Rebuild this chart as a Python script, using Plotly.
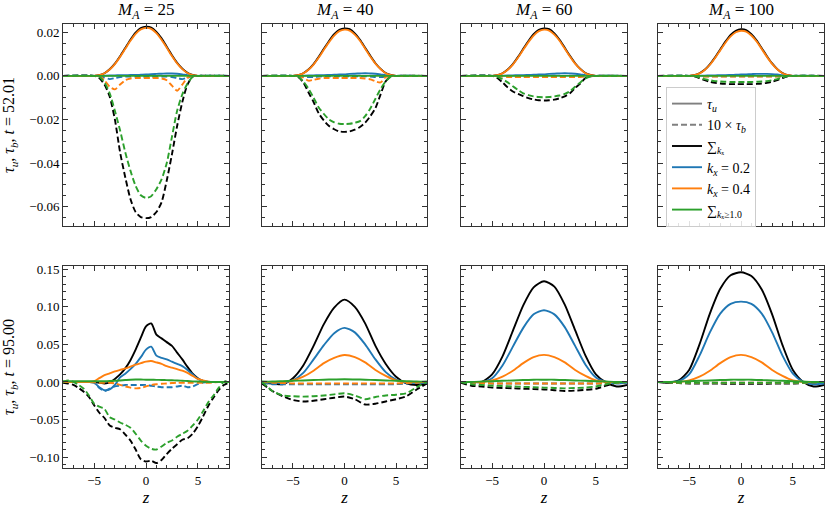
import plotly.graph_objects as go
from plotly.subplots import make_subplots

# ---------------- data ----------------
MA_LABELS = ["25", "40", "60", "100"]
ROW_TIMES = ["52.01", "95.00"]

Z_TOP = [-8, -5, -4.5, -4, -3.5, -3, -2.5, -2, -1.5, -1, -0.5, 0, 0.5, 1, 1.5, 2, 2.5, 3, 3.5, 4, 4.5, 5, 8]
Z_B25 = [-8, -7.5, -7, -6.5, -6, -5.5, -5, -4.5, -4, -3.5, -3, -2.5, -2, -1.5, -1, -0.5, 0,
         0.5, 1, 1.5, 2, 2.5, 3, 3.5, 4, 4.5, 5, 5.5, 6, 6.5, 7, 7.5, 8]
Z_BOT = [-8, -7, -6, -5, -4, -3, -2, -1, 0, 1, 2, 3, 4, 5, 6, 7, 8]

# ---- top row (t = 52.01) ----
top25_sum_u = [0, 0, 0.0003, 0.0012, 0.0030, 0.0056, 0.0090, 0.0128, 0.0166, 0.0198, 0.0219, 0.0226, 0.0222, 0.0202, 0.0172, 0.0134, 0.0095, 0.0060, 0.0033, 0.0014, 0.0004, 0, 0]
top25_sum_b = [0, 0, -0.0010, -0.0040, -0.0095, -0.0200, -0.0350, -0.0465, -0.0565, -0.0625, -0.0648, -0.0653, -0.0648, -0.0625, -0.0580, -0.0480, -0.0360, -0.0230, -0.0120, -0.0040, -0.0003, 0, 0]
top25_k02_u = [0, 0, 0, 0.0001, 0.0002, 0.0002, 0.0003, 0.0003, 0.0004, 0.0004, 0.0005, 0.0006, 0.0008, 0.0009, 0.0010, 0.0011, 0.0011, 0.0010, 0.0007, 0.0003, 0.0001, 0, 0]
top25_k02_b = [0, 0, -0.0002, -0.0008, -0.0015, -0.0010, -0.0005, -0.0003, -0.0003, -0.0003, -0.0003, -0.0003, -0.0003, -0.0003, -0.0003, -0.0003, -0.0005, -0.0010, -0.0015, -0.0008, -0.0002, 0, 0]
top25_k04_u = [0, 0, 0.0003, 0.0012, 0.0029, 0.0054, 0.0087, 0.0124, 0.0161, 0.0193, 0.0213, 0.0220, 0.0216, 0.0196, 0.0166, 0.0129, 0.0091, 0.0057, 0.0031, 0.0013, 0.0003, 0, 0]
top25_k04_b = [0, 0, 0, -0.0020, -0.0050, -0.0062, -0.0040, -0.0020, -0.0012, -0.0010, -0.0010, -0.0010, -0.0010, -0.0010, -0.0012, -0.0020, -0.0045, -0.0068, -0.0040, -0.0008, 0, 0, 0]
top25_hi_u = [0, 0, 0, 0, 0, 0, 0, 0, 0, 0, 0, 0, 0, 0, 0, 0, 0, 0, 0, 0, 0, 0, 0]
top25_hi_b = [0, 0, -0.0005, -0.0030, -0.0080, -0.0160, -0.0250, -0.0350, -0.0435, -0.0505, -0.0548, -0.0560, -0.0552, -0.0520, -0.0475, -0.0400, -0.0280, -0.0160, -0.0085, -0.0035, -0.0005, 0, 0]

top40_sum_u = [0, 0, 0.0003, 0.0012, 0.0029, 0.0054, 0.0087, 0.0124, 0.0160, 0.0191, 0.0211, 0.0218, 0.0214, 0.0195, 0.0166, 0.0129, 0.0092, 0.0058, 0.0032, 0.0013, 0.0004, 0, 0]
top40_sum_b = [0, 0, -0.0005, -0.0030, -0.0075, -0.0120, -0.0172, -0.0205, -0.0230, -0.0245, -0.0255, -0.0257, -0.0255, -0.0247, -0.0235, -0.0215, -0.0185, -0.0148, -0.0085, -0.0025, -0.0002, 0, 0]
top40_k02_u = [0, 0, 0, 0.0001, 0.0002, 0.0002, 0.0003, 0.0003, 0.0004, 0.0005, 0.0006, 0.0007, 0.0009, 0.0010, 0.0011, 0.0012, 0.0011, 0.0010, 0.0007, 0.0003, 0.0001, 0, 0]
top40_k02_b = [0, 0, -0.0001, -0.0004, -0.0006, -0.0005, -0.0003, -0.0002, -0.0002, -0.0002, -0.0002, -0.0002, -0.0002, -0.0002, -0.0002, -0.0002, -0.0003, -0.0005, -0.0006, -0.0004, -0.0001, 0, 0]
top40_k04_u = [0, 0, 0.0003, 0.0011, 0.0028, 0.0052, 0.0084, 0.0120, 0.0155, 0.0185, 0.0205, 0.0212, 0.0208, 0.0189, 0.0161, 0.0125, 0.0089, 0.0056, 0.0031, 0.0012, 0.0003, 0, 0]
top40_k04_b = [0, 0, 0, -0.0008, -0.0022, -0.0018, -0.0013, -0.0010, -0.0010, -0.0010, -0.0010, -0.0010, -0.0010, -0.0010, -0.0010, -0.0012, -0.0016, -0.0025, -0.0030, -0.0005, 0, 0, 0]
top40_hi_u = [0, 0, 0, 0, 0, 0, 0, 0, 0, 0, 0, 0, 0, 0, 0, 0, 0, 0, 0, 0, 0, 0, 0]
top40_hi_b = [0, 0, -0.0003, -0.0025, -0.0058, -0.0100, -0.0145, -0.0175, -0.0200, -0.0213, -0.0220, -0.0221, -0.0220, -0.0215, -0.0208, -0.0185, -0.0150, -0.0105, -0.0060, -0.0025, -0.0003, 0, 0]

top60_sum_u = [0, 0, 0.0003, 0.0012, 0.0029, 0.0054, 0.0087, 0.0124, 0.0160, 0.0191, 0.0211, 0.0218, 0.0214, 0.0195, 0.0166, 0.0129, 0.0092, 0.0058, 0.0032, 0.0013, 0.0004, 0, 0]
top60_sum_b = [0, 0, -0.0010, -0.0030, -0.0053, -0.0072, -0.0083, -0.0093, -0.0102, -0.0108, -0.0112, -0.0113, -0.0112, -0.0109, -0.0103, -0.0094, -0.0080, -0.0055, -0.0035, -0.0010, -0.0002, 0, 0]
top60_k02_u = [0, 0, 0, 0.0001, 0.0002, 0.0002, 0.0003, 0.0003, 0.0004, 0.0005, 0.0006, 0.0007, 0.0009, 0.0010, 0.0011, 0.0012, 0.0011, 0.0010, 0.0007, 0.0003, 0.0001, 0, 0]
top60_k02_b = [0, 0, -0.0001, -0.0002, -0.0002, -0.0002, -0.0002, -0.0002, -0.0002, -0.0002, -0.0002, -0.0002, -0.0002, -0.0002, -0.0002, -0.0002, -0.0002, -0.0002, -0.0002, -0.0002, -0.0001, 0, 0]
top60_k04_u = [0, 0, 0.0003, 0.0011, 0.0028, 0.0052, 0.0084, 0.0120, 0.0155, 0.0185, 0.0205, 0.0212, 0.0208, 0.0189, 0.0161, 0.0125, 0.0089, 0.0056, 0.0031, 0.0012, 0.0003, 0, 0]
top60_k04_b = [0, 0, 0, -0.0003, -0.0005, -0.0005, -0.0005, -0.0005, -0.0005, -0.0005, -0.0005, -0.0005, -0.0005, -0.0005, -0.0005, -0.0005, -0.0005, -0.0005, -0.0005, -0.0003, 0, 0, 0]
top60_hi_u = [0, 0, 0, 0, 0, 0, 0, 0, 0, 0, 0, 0, 0, 0, 0, 0, 0, 0, 0, 0, 0, 0, 0]
top60_hi_b = [0, 0, -0.0005, -0.0015, -0.0030, -0.0048, -0.0065, -0.0080, -0.0088, -0.0094, -0.0097, -0.0098, -0.0097, -0.0094, -0.0090, -0.0083, -0.0071, -0.0050, -0.0030, -0.0012, -0.0003, 0, 0]

top100_sum_u = [0, 0, 0.0003, 0.0012, 0.0028, 0.0053, 0.0085, 0.0121, 0.0157, 0.0188, 0.0207, 0.0214, 0.0210, 0.0191, 0.0163, 0.0127, 0.0090, 0.0057, 0.0031, 0.0013, 0.0003, 0, 0]
top100_sum_b = [0, 0, -0.0002, -0.0010, -0.0020, -0.0027, -0.0032, -0.0035, -0.0037, -0.0038, -0.0038, -0.0038, -0.0038, -0.0038, -0.0037, -0.0035, -0.0032, -0.0027, -0.0020, -0.0010, -0.0002, 0, 0]
top100_k02_u = [0, 0, 0, 0.0001, 0.0001, 0.0002, 0.0002, 0.0003, 0.0003, 0.0004, 0.0005, 0.0006, 0.0007, 0.0008, 0.0009, 0.0009, 0.0009, 0.0008, 0.0006, 0.0003, 0.0001, 0, 0]
top100_k02_b = [0, 0, -0.0001, -0.0002, -0.0002, -0.0002, -0.0002, -0.0002, -0.0002, -0.0002, -0.0002, -0.0002, -0.0002, -0.0002, -0.0002, -0.0002, -0.0002, -0.0002, -0.0002, -0.0002, -0.0001, 0, 0]
top100_k04_u = [0, 0, 0.0003, 0.0011, 0.0027, 0.0051, 0.0082, 0.0117, 0.0152, 0.0181, 0.0200, 0.0207, 0.0203, 0.0185, 0.0158, 0.0123, 0.0087, 0.0055, 0.0030, 0.0012, 0.0003, 0, 0]
top100_k04_b = [0, 0, 0, -0.0002, -0.0003, -0.0003, -0.0003, -0.0003, -0.0003, -0.0003, -0.0003, -0.0003, -0.0003, -0.0003, -0.0003, -0.0003, -0.0003, -0.0003, -0.0003, -0.0002, 0, 0, 0]
top100_hi_u = [0, 0, 0, 0, 0, 0, 0, 0, 0, 0, 0, 0, 0, 0, 0, 0, 0, 0, 0, 0, 0, 0, 0]
top100_hi_b = [0, 0, -0.0001, -0.0007, -0.0015, -0.0020, -0.0024, -0.0026, -0.0027, -0.0028, -0.0028, -0.0028, -0.0028, -0.0028, -0.0027, -0.0026, -0.0024, -0.0020, -0.0015, -0.0007, -0.0001, 0, 0]

# ---- bottom row (t = 95.00) ----
bot25_sum_u = [0, 0, 0, 0, 0, 0, 0, -0.001, -0.002, -0.001, 0.004, 0.010, 0.018, 0.029, 0.043, 0.059, 0.074, 0.078, 0.063, 0.058, 0.053, 0.048, 0.039, 0.030, 0.020, 0.011, 0.005, 0.0015, 0, 0, 0, 0, 0]
bot25_sum_b = [-0.001, -0.002, -0.004, -0.008, -0.013, -0.020, -0.031, -0.041, -0.048, -0.058, -0.061, -0.063, -0.070, -0.078, -0.090, -0.103, -0.106, -0.105, -0.108, -0.104, -0.096, -0.089, -0.083, -0.077, -0.075, -0.069, -0.059, -0.046, -0.032, -0.021, -0.011, -0.004, -0.001]
bot25_k02_u = [0, 0, 0, 0, 0, 0, -0.001, -0.007, -0.011, -0.010, -0.004, 0.006, 0.011, 0.017, 0.024, 0.033, 0.043, 0.047, 0.035, 0.032, 0.030, 0.027, 0.024, 0.021, 0.016, 0.010, 0.004, 0.0015, 0.0005, 0, 0, 0, 0]
bot25_k02_b = [0, 0, 0, 0, 0, 0, -0.001, -0.008, -0.012, -0.009, -0.006, -0.005, -0.004, -0.004, -0.004, -0.004, -0.004, -0.005, -0.006, -0.007, -0.007, -0.007, -0.006, -0.005, -0.007, -0.006, -0.003, -0.001, 0, 0, 0, 0, 0]
bot25_k04_u = [0, 0, 0, 0, 0, 0, 0.001, 0.005, 0.009, 0.0115, 0.014, 0.016, 0.018, 0.0205, 0.023, 0.025, 0.027, 0.0278, 0.026, 0.024, 0.021, 0.019, 0.017, 0.015, 0.012, 0.008, 0.004, 0.002, 0.0005, 0, 0, 0, 0]
bot25_k04_b = [0, 0, 0, 0, 0, 0, -0.0005, -0.001, -0.001, -0.001, -0.002, -0.004, -0.006, -0.0075, -0.0085, -0.008, -0.006, -0.004, -0.003, -0.0025, -0.002, -0.0015, -0.001, -0.001, -0.001, -0.001, -0.001, -0.001, -0.001, -0.0005, 0, 0, 0]
bot25_hi_u = [0.001, 0.001, 0.001, 0.001, 0.001, 0.001, 0.001, 0.001, 0.001, 0.0012, 0.0015, 0.002, 0.0025, 0.003, 0.0032, 0.0032, 0.003, 0.003, 0.0028, 0.0026, 0.0024, 0.0022, 0.002, 0.0016, 0.0012, 0.0008, 0.0005, 0.0003, 0, 0, 0, 0, 0]
bot25_hi_b = [0, 0.002, 0.000, -0.004, -0.009, -0.018, -0.029, -0.033, -0.036, -0.047, -0.050, -0.054, -0.057, -0.061, -0.069, -0.078, -0.085, -0.089, -0.090, -0.086, -0.081, -0.078, -0.073, -0.069, -0.065, -0.058, -0.050, -0.039, -0.027, -0.018, -0.008, 0.000, 0.002]

bot40_sum_u = [-0.001, -0.002, -0.003, 0.005, 0.022, 0.048, 0.077, 0.099, 0.1096, 0.100, 0.078, 0.048, 0.024, 0.007, -0.002, -0.004, -0.002]
bot40_sum_b = [-0.002, -0.012, -0.019, -0.024, -0.026, -0.025, -0.023, -0.021, -0.0195, -0.023, -0.030, -0.029, -0.026, -0.023, -0.019, -0.010, -0.002]
bot40_k02_u = [-0.001, -0.001, -0.001, 0.002, 0.012, 0.030, 0.049, 0.065, 0.072, 0.066, 0.050, 0.030, 0.013, 0.003, -0.001, -0.001, -0.001]
bot40_k02_b = [-0.001, -0.003, -0.003, -0.003, -0.003, -0.003, -0.003, -0.003, -0.003, -0.003, -0.003, -0.003, -0.003, -0.003, -0.002, -0.001, 0]
bot40_k04_u = [0, 0, 0, 0.002, 0.007, 0.015, 0.025, 0.032, 0.0358, 0.033, 0.026, 0.016, 0.008, 0.002, 0, 0, 0]
bot40_k04_b = [0, -0.001, -0.0015, -0.002, -0.002, -0.002, -0.002, -0.002, -0.002, -0.002, -0.002, -0.002, -0.002, -0.002, -0.0015, -0.001, 0]
bot40_hi_u = [0.0005, 0.0005, 0.001, 0.0015, 0.002, 0.0025, 0.003, 0.0033, 0.0035, 0.0033, 0.003, 0.0025, 0.002, 0.0015, 0.001, 0.0005, 0.0005]
bot40_hi_b = [0, -0.012, -0.018, -0.019, -0.0195, -0.019, -0.018, -0.0165, -0.015, -0.018, -0.023, -0.020, -0.018, -0.017, -0.015, -0.007, 0]

bot60_sum_u = [0, 0, 0, 0.010, 0.034, 0.068, 0.102, 0.126, 0.134, 0.127, 0.103, 0.069, 0.035, 0.010, -0.001, -0.006, -0.004]
bot60_sum_b = [-0.001, -0.005, -0.006, -0.0075, -0.008, -0.0085, -0.009, -0.0095, -0.010, -0.011, -0.012, -0.0115, -0.0105, -0.009, -0.005, -0.001, 0]
bot60_k02_u = [0, 0, 0, 0.005, 0.022, 0.047, 0.072, 0.090, 0.0955, 0.090, 0.073, 0.048, 0.023, 0.006, 0, -0.002, -0.001]
bot60_k02_b = [0, -0.001, -0.0015, -0.002, -0.002, -0.002, -0.002, -0.002, -0.002, -0.002, -0.002, -0.002, -0.002, -0.002, -0.0015, -0.001, 0]
bot60_k04_u = [0, 0, 0, 0.002, 0.007, 0.015, 0.025, 0.033, 0.036, 0.033, 0.026, 0.016, 0.008, 0.002, 0, 0, 0]
bot60_k04_b = [0, -0.001, -0.0015, -0.002, -0.002, -0.002, -0.002, -0.002, -0.002, -0.002, -0.002, -0.002, -0.002, -0.002, -0.0015, -0.001, 0]
bot60_hi_u = [0, 0, 0.0005, 0.001, 0.0015, 0.002, 0.0025, 0.003, 0.003, 0.003, 0.0025, 0.002, 0.0015, 0.001, 0.0005, 0, 0]
bot60_hi_b = [0, -0.003, -0.004, -0.005, -0.0055, -0.006, -0.0065, -0.007, -0.0075, -0.008, -0.0085, -0.008, -0.0075, -0.006, -0.003, -0.001, 0]

bot100_sum_u = [0, -0.001, 0.002, 0.016, 0.050, 0.091, 0.124, 0.142, 0.146, 0.141, 0.123, 0.090, 0.049, 0.016, 0.000, -0.006, -0.004]
bot100_sum_b = [0, -0.001, -0.0015, -0.002, -0.002, -0.002, -0.0022, -0.0025, -0.0025, -0.0025, -0.0025, -0.0022, -0.002, -0.002, -0.0015, -0.001, 0]
bot100_k02_u = [0, 0, 0.001, 0.010, 0.035, 0.066, 0.091, 0.104, 0.107, 0.104, 0.091, 0.066, 0.035, 0.011, 0, -0.003, -0.002]
bot100_k02_b = [0, -0.0005, -0.001, -0.001, -0.001, -0.001, -0.001, -0.001, -0.001, -0.001, -0.001, -0.001, -0.001, -0.001, -0.001, -0.0005, 0]
bot100_k04_u = [0, 0, 0, 0.002, 0.007, 0.015, 0.025, 0.033, 0.036, 0.033, 0.026, 0.016, 0.008, 0.002, 0, 0, 0]
bot100_k04_b = [0, -0.0005, -0.001, -0.001, -0.001, -0.001, -0.001, -0.001, -0.001, -0.001, -0.001, -0.001, -0.001, -0.001, -0.001, -0.0005, 0]
bot100_hi_u = [0, 0, 0.0005, 0.001, 0.0015, 0.002, 0.0025, 0.003, 0.003, 0.003, 0.0025, 0.002, 0.0015, 0.001, 0.0005, 0, 0]
bot100_hi_b = [0, -0.0005, -0.001, -0.0012, -0.0012, -0.0012, -0.0012, -0.0012, -0.0012, -0.0012, -0.0012, -0.0012, -0.0012, -0.0012, -0.001, -0.0005, 0]

# ---------------- styles ----------------
C_SUM = "#000000"
C_K02 = "#1f77b4"
C_K04 = "#ff7f0e"
C_HI = "#2ca02c"
FONT = "Liberation Serif, Times New Roman, DejaVu Serif, serif"
DASH = "6px,3px"
LW = 1.9

panels = [
    (1, 1, Z_TOP, [(top25_sum_u, top25_sum_b, C_SUM), (top25_k02_u, top25_k02_b, C_K02), (top25_k04_u, top25_k04_b, C_K04), (top25_hi_u, top25_hi_b, C_HI)]),
    (1, 2, Z_TOP, [(top40_sum_u, top40_sum_b, C_SUM), (top40_k02_u, top40_k02_b, C_K02), (top40_k04_u, top40_k04_b, C_K04), (top40_hi_u, top40_hi_b, C_HI)]),
    (1, 3, Z_TOP, [(top60_sum_u, top60_sum_b, C_SUM), (top60_k02_u, top60_k02_b, C_K02), (top60_k04_u, top60_k04_b, C_K04), (top60_hi_u, top60_hi_b, C_HI)]),
    (1, 4, Z_TOP, [(top100_sum_u, top100_sum_b, C_SUM), (top100_k02_u, top100_k02_b, C_K02), (top100_k04_u, top100_k04_b, C_K04), (top100_hi_u, top100_hi_b, C_HI)]),
    (2, 1, Z_B25, [(bot25_sum_u, bot25_sum_b, C_SUM), (bot25_k02_u, bot25_k02_b, C_K02), (bot25_k04_u, bot25_k04_b, C_K04), (bot25_hi_u, bot25_hi_b, C_HI)]),
    (2, 2, Z_BOT, [(bot40_sum_u, bot40_sum_b, C_SUM), (bot40_k02_u, bot40_k02_b, C_K02), (bot40_k04_u, bot40_k04_b, C_K04), (bot40_hi_u, bot40_hi_b, C_HI)]),
    (2, 3, Z_BOT, [(bot60_sum_u, bot60_sum_b, C_SUM), (bot60_k02_u, bot60_k02_b, C_K02), (bot60_k04_u, bot60_k04_b, C_K04), (bot60_hi_u, bot60_hi_b, C_HI)]),
    (2, 4, Z_BOT, [(bot100_sum_u, bot100_sum_b, C_SUM), (bot100_k02_u, bot100_k02_b, C_K02), (bot100_k04_u, bot100_k04_b, C_K04), (bot100_hi_u, bot100_hi_b, C_HI)]),
]

fig = make_subplots(rows=2, cols=4)

for row, col, z, comps in panels:
    for u, b, c in comps:
        fig.add_trace(go.Scatter(x=z, y=u, mode="lines", showlegend=False, hoverinfo="skip",
                                 line=dict(color=c, width=LW, shape="spline", smoothing=0.7)),
                      row=row, col=col)
        fig.add_trace(go.Scatter(x=z, y=b, mode="lines", showlegend=False, hoverinfo="skip",
                                 line=dict(color=c, width=LW, dash=DASH, shape="spline", smoothing=0.7)),
                      row=row, col=col)

# legend entries
legend_items = [
    ("<i>τ<sub>u</sub></i>", "#808080", "solid"),
    ("10 × <i>τ<sub>b</sub></i>", "#808080", DASH),
    ("∑<sub><i>k</i>ₓ</sub>", C_SUM, "solid"),
    ("<i>k<sub>x</sub></i> = 0.2", C_K02, "solid"),
    ("<i>k<sub>x</sub></i> = 0.4", C_K04, "solid"),
    ("∑<sub><i>k</i>ₓ≥1.0</sub>", C_HI, "solid"),
]
for name, c, d in legend_items:
    fig.add_trace(go.Scatter(x=[None], y=[None], mode="lines", name=name,
                             line=dict(color=c, width=LW, dash=d)), row=1, col=4)

# ---------------- layout ----------------
W, H = 830, 509
x_px = [(63, 229), (262, 427), (461, 627), (658, 824)]
y_px = [(24, 226), (266, 468)]

axis_common = dict(showgrid=False, zeroline=False, showline=True, linecolor="#333", linewidth=1,
                   mirror="allticks", ticks="inside", ticklen=5, tickwidth=1, tickcolor="#333",
                   tickfont=dict(family=FONT, size=13, color="#000"), automargin=False)

for r in range(2):
    for c in range(4):
        idx = r * 4 + c + 1
        xa = "xaxis" if idx == 1 else f"xaxis{idx}"
        ya = "yaxis" if idx == 1 else f"yaxis{idx}"
        xdom = [x_px[c][0] / W, x_px[c][1] / W]
        ydom = [1 - y_px[r][1] / H, 1 - y_px[r][0] / H]
        xdict = dict(axis_common, domain=xdom, range=[-8, 8], tickmode="linear", tick0=0, dtick=5,
                     minor=dict(ticks="inside", ticklen=3, dtick=1, tick0=0, tickcolor="#333"),
                     showticklabels=(r == 1))
        if r == 1:
            xdict["title"] = dict(text="<i>z</i>", font=dict(family=FONT, size=17, color="#000"), standoff=1)
        if r == 0:
            ydict = dict(axis_common, domain=ydom, range=[-0.0689, 0.0238], tickmode="linear", tick0=0,
                         dtick=0.02, tickformat=".2f",
                         minor=dict(ticks="inside", ticklen=3, dtick=0.005, tick0=0, tickcolor="#333"))
        else:
            ydict = dict(axis_common, domain=ydom, range=[-0.1146, 0.1544], tickmode="linear", tick0=0,
                         dtick=0.05, tickformat=".2f",
                         minor=dict(ticks="inside", ticklen=3, dtick=0.01, tick0=0, tickcolor="#333"))
        ydict["showticklabels"] = (c == 0)
        if c == 0:
            ydict["title"] = dict(text=f"<i>τ<sub>u</sub></i>, <i>τ<sub>b</sub></i>, <i>t</i> = {ROW_TIMES[r]}",
                                  font=dict(family=FONT, size=16, color="#000"), standoff=10)
        fig.layout[xa].update(xdict)
        fig.layout[ya].update(ydict)

annotations = []
for c in range(4):
    xc = (x_px[c][0] + x_px[c][1]) / 2 / W
    annotations.append(dict(text=f"<i>M<sub>A</sub></i> = {MA_LABELS[c]}", x=xc, y=1 - 11 / H,
                            xref="paper", yref="paper", xanchor="center", yanchor="middle",
                            showarrow=False, font=dict(family=FONT, size=17, color="#000")))

fig.update_layout(
    width=W, height=H, margin=dict(l=0, r=0, t=0, b=0),
    paper_bgcolor="white", plot_bgcolor="white",
    font=dict(family=FONT, size=13, color="#000"),
    annotations=annotations,
    showlegend=True,
    legend=dict(x=666 / W, y=1 - 87 / H, xanchor="left", yanchor="top",
                bgcolor="rgba(255,255,255,0.85)", bordercolor="#cccccc", borderwidth=1,
                font=dict(family=FONT, size=14, color="#000"), tracegroupgap=0,
                itemwidth=30),
)

fig.write_html("out.html", config={"displayModeBar": False},
               post_script="document.body.style.margin='0px';")
